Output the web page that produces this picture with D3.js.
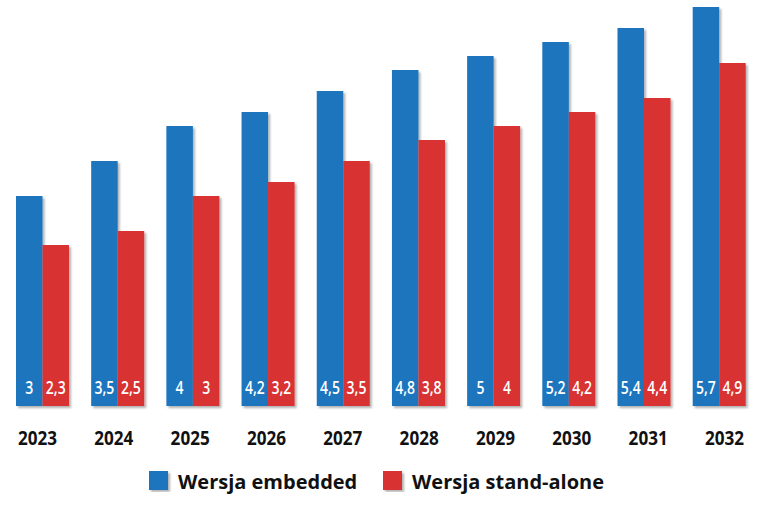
<!DOCTYPE html>
<html>
<head>
<meta charset="utf-8">
<script src="https://cdn.jsdelivr.net/npm/d3@7"></script>
<style>
  html, body { margin: 0; padding: 0; background: #fff; }
  svg { display: block; font-family: "Open Sans", "Noto Sans", sans-serif; }
</style>
</head>
<body>
<svg id="chart"></svg>
<script>
// data
const years = ['2023', '2024', '2025', '2026', '2027', '2028', '2029', '2030', '2031', '2032'];
const embedded = [3, 3.5, 4, 4.2, 4.5, 4.8, 5, 5.2, 5.4, 5.7];
const standAlone = [2.3, 2.5, 3, 3.2, 3.5, 3.8, 4, 4.2, 4.4, 4.9];
const seriesNames = ['Wersja embedded', 'Wersja stand-alone'];
const colors = ['#1c74bd', '#d83130'];

const width = 764, height = 505;
const baseline = 406;

const svg = d3.select('#chart')
    .attr('width', width)
    .attr('height', height);

// soft shadow under the bars
const defs = svg.append('defs');
defs.append('filter')
    .attr('id', 'shadow')
    .attr('x', '-20%').attr('y', '-5%')
    .attr('width', '150%').attr('height', '115%')
    .append('feDropShadow')
    .attr('dx', 2).attr('dy', 2)
    .attr('stdDeviation', 1.2)
    .attr('flood-color', '#000')
    .attr('flood-opacity', 0.3);

const x = d3.scaleBand()
    .domain(years)
    .range([16, 745.7])
    .paddingInner(0.295)
    .paddingOuter(0);

const xSub = d3.scaleBand()
    .domain([0, 1])
    .range([0, x.bandwidth()]);

const y = d3.scaleLinear()
    .domain([0, 5.8])
    .range([baseline, baseline - 5.8 * 70]);

// year labels sit on a slightly wider spacing than the bars
const xLabel = d3.scalePoint()
    .domain(years)
    .range([37, 724]);

const rows = years.map((yr, i) => ({ year: yr, values: [embedded[i], standAlone[i]] }));

const groups = svg.selectAll('.group')
    .data(rows)
    .enter()
    .append('g')
    .attr('class', 'group')
    .attr('transform', d => `translate(${x(d.year)},0)`);

groups.selectAll('rect')
    .data(d => d.values.map((v, k) => ({ v, k })))
    .enter()
    .append('rect')
    .attr('x', d => xSub(d.k))
    .attr('y', d => y(d.v))
    .attr('width', xSub.bandwidth())
    .attr('height', d => baseline - y(d.v))
    .attr('fill', d => colors[d.k])
    .attr('filter', 'url(#shadow)');

// value labels, squeezed a little to look like a condensed face
groups.selectAll('.val')
    .data(d => d.values.map((v, k) => ({ v, k })))
    .enter()
    .append('text')
    .attr('class', 'val')
    .attr('transform', d => `translate(${xSub(d.k) + xSub.bandwidth() / 2},394) scale(0.8,1)`)
    .attr('text-anchor', 'middle')
    .attr('fill', '#fff')
    .attr('font-size', 17.5)
    .attr('font-weight', 600)
    .text(d => String(d.v).replace('.', ','));

// x axis labels, no line or ticks
const axis = svg.append('g')
    .attr('transform', 'translate(0,445)')
    .call(d3.axisBottom(xLabel).tickSize(0).tickPadding(0));
axis.select('.domain').remove();
axis.selectAll('text')
    .attr('dy', 0)
    .attr('fill', '#111')
    .attr('font-family', '"Open Sans", sans-serif')
    .attr('font-size', 19)
    .attr('font-weight', 700)
    .attr('transform', 'scale(0.9,1)');

// legend
const legendX = [149, 383];
const legend = svg.selectAll('.legend')
    .data(seriesNames)
    .enter()
    .append('g')
    .attr('class', 'legend')
    .attr('transform', (d, i) => `translate(${legendX[i]},471)`);

legend.append('rect')
    .attr('width', 19)
    .attr('height', 19)
    .attr('fill', (d, i) => colors[i])
    .attr('filter', 'url(#shadow)');

legend.append('text')
    .attr('x', 29)
    .attr('y', 18)
    .attr('fill', '#111')
    .attr('font-size', 20)
    .attr('font-weight', 700)
    .text(d => d);
</script>
</body>
</html>
